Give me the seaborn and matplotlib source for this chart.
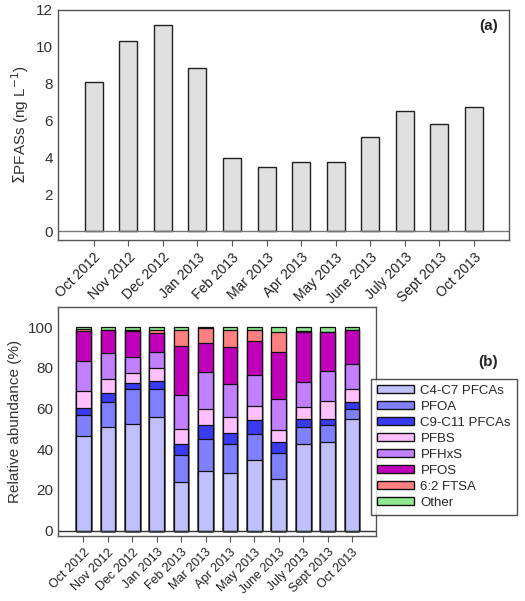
import matplotlib
matplotlib.use("Agg")
import matplotlib.pyplot as plt
from matplotlib.patches import Patch
import seaborn as sns
import numpy as np

# Sampling months
months = ['Oct 2012', 'Nov 2012', 'Dec 2012', 'Jan 2013', 'Feb 2013', 'Mar 2013',
          'Apr 2013', 'May 2013', 'June 2013', 'July 2013', 'Sept 2013', 'Oct 2013']

# (a) total PFASs, ng/L
total_pfas = [8.1, 10.3, 11.2, 8.85, 3.95, 3.5, 3.75, 3.75, 5.1, 6.5, 5.8, 6.75]

# (b) relative abundance (%) per compound group
c4_c7 = [46.6, 51.0, 52.6, 56.1, 23.8, 29.3, 28.5, 34.6, 25.6, 42.8, 43.8, 54.8]
pfoa = [10.4, 12.3, 16.9, 13.4, 13.2, 15.6, 14.3, 12.8, 12.4, 8.3, 8.3, 5.2]
c9_c11 = [3.5, 4.6, 3.0, 3.9, 5.6, 7.2, 5.4, 7.0, 5.6, 3.7, 3.0, 3.3]
pfbs = [8.0, 6.5, 4.9, 6.4, 7.2, 7.6, 7.5, 6.9, 5.9, 5.9, 8.8, 6.2]
pfhxs = [14.9, 13.0, 8.2, 8.2, 17.1, 18.5, 16.3, 15.3, 15.4, 12.4, 14.8, 12.5]
pfos = [14.6, 11.3, 12.4, 9.4, 23.9, 13.9, 18.5, 16.5, 23.0, 24.6, 19.0, 16.7]
ftsa_62 = [1.3, 0.0, 0.8, 1.1, 7.9, 7.4, 8.2, 5.6, 10.0, 0.3, 0.0, 0.0]
other = [0.7, 1.3, 1.2, 1.5, 1.3, 0.5, 1.3, 1.3, 2.1, 2.0, 2.3, 1.3]

groups = ['C4-C7 PFCAs', 'PFOA', 'C9-C11 PFCAs', 'PFBS', 'PFHxS', 'PFOS', '6:2 FTSA', 'Other']
group_values = [c4_c7, pfoa, c9_c11, pfbs, pfhxs, pfos, ftsa_62, other]
group_colors = ['#c0c0ff', '#8080ff', '#3a3af0', '#ffc0ff', '#c080ff', '#c000b8', '#ff8080', '#90e890']

sns.set_style("white")
plt.rcParams['font.family'] = ['Liberation Sans', 'DejaVu Sans']

fig = plt.figure(figsize=(5.25, 6.01), dpi=100)
ax1 = fig.add_axes([0.1105, 0.6007, 0.859, 0.3827])
ax2 = fig.add_axes([0.1105, 0.1082, 0.6057, 0.3805])

spine_col = '#555555'

# Panel (a)
sns.barplot(x=months, y=total_pfas, color='#e0e0e0', saturation=1, width=0.52,
            edgecolor='#222222', linewidth=1.0, ax=ax1)
ax1.axhline(0, color='#777777', lw=1.0)
ax1.set_ylim(-0.47, 12)
ax1.set_xlim(-1.03, 12.01)
ax1.set_yticks([0, 2, 4, 6, 8, 10, 12])
ax1.set_ylabel(r'$\Sigma$PFASs (ng L$^{-1}$)', fontsize=11, color='#333333')
ax1.text(0.975, 0.93, '(a)', transform=ax1.transAxes, ha='right', va='center',
         fontsize=11, fontweight='bold')

# Panel (b): stacked bars drawn as cumulative totals from the top segment down
cum = np.cumsum(np.array(group_values), axis=0)
for i in range(len(groups) - 1, -1, -1):
    sns.barplot(x=months, y=cum[i], color=group_colors[i], saturation=1, width=0.6,
                edgecolor='#111111', linewidth=0.9, ax=ax2)
ax2.axhline(0, color='#333333', lw=1.0)
ax2.set_ylim(-2.6, 109.8)
ax2.set_xlim(-1.04, 11.98)
ax2.set_yticks([0, 20, 40, 60, 80, 100])
ax2.set_ylabel('Relative abundance (%)', fontsize=11, color='#333333')

handles = [Patch(facecolor=c, edgecolor='#111111', linewidth=1.0, label=g)
           for g, c in zip(groups, group_colors)]
leg = fig.legend(handles=handles, loc='upper left', bbox_to_anchor=(371 / 525, 1 - 379 / 601),
                 borderaxespad=0, fontsize=9.5, frameon=True, fancybox=False,
                 handlelength=2.8, handleheight=0.55, labelspacing=0.3, borderpad=0.45,
                 handletextpad=0.5)
leg.get_frame().set_edgecolor('#222222')
leg.get_frame().set_linewidth(1.0)
fig.text(488 / 525, 1 - 362 / 601, '(b)', ha='center', va='center', fontsize=11,
         fontweight='bold')

for ax, fs in [(ax1, 10), (ax2, 9)]:
    for sp in ax.spines.values():
        sp.set_visible(True)
        sp.set_color(spine_col)
        sp.set_linewidth(1.0)
    ax.tick_params(axis='x', direction='out', length=4, color=spine_col, labelsize=fs,
                   labelcolor='#222222', bottom=True)
    ax.tick_params(axis='y', length=0, labelsize=11, labelcolor='#333333')
    plt.setp(ax.get_xticklabels(), rotation=45, ha='right', rotation_mode='anchor')
    ax.set_xlabel('')

fig.savefig('out.png', dpi=100)
